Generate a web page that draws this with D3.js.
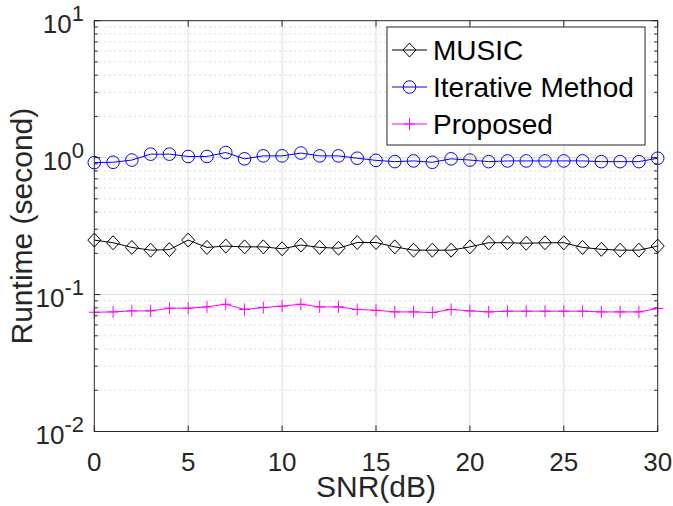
<!DOCTYPE html>
<html><head><meta charset="utf-8">
<script src="https://cdn.jsdelivr.net/npm/d3@7"></script>
<style>body{margin:0;background:#fff}svg{display:block}</style>
</head><body><svg id="c" width="673" height="506"></svg>
<script>
const snr = d3.range(0, 31);
const music = [0.25,0.239,0.221,0.211,0.213,0.25,0.221,0.226,0.223,0.223,0.216,0.23,0.221,0.218,0.24,0.24,0.223,0.211,0.211,0.211,0.223,0.239,0.239,0.237,0.239,0.239,0.221,0.214,0.211,0.211,0.226];
const iterative = [0.92,0.925,0.96,1.06,1.06,1.02,1.02,1.09,0.98,1.03,1.03,1.08,1.03,1.03,0.99,0.955,0.935,0.946,0.925,0.98,0.96,0.935,0.946,0.946,0.946,0.946,0.946,0.935,0.935,0.935,0.99];
const proposed = [0.0743,0.0747,0.076,0.076,0.0795,0.0795,0.0813,0.085,0.0778,0.0804,0.0823,0.085,0.0813,0.0813,0.0778,0.0768,0.0747,0.0747,0.074,0.0778,0.076,0.0747,0.0756,0.0756,0.0756,0.0756,0.0756,0.0747,0.0747,0.0747,0.0791];
const seriesNames = ["MUSIC","Iterative Method","Proposed"];
const xTicks = [0,5,10,15,20,25,30];
const yTickExp = [1,0,-1,-2];

const svg = d3.select("#c");
const L=94.3,R=657.7,T=20.7,B=431.5;
const x = d3.scaleLinear().domain([0,30]).range([L,R]);
const y = d3.scaleLog().domain([0.01,10]).range([B,T]);
const font = "'Liberation Sans', Arial, Helvetica, sans-serif";
const axc = "#262626";

// grid
const g = svg.append("g");
const minor = [];
[0.01,0.1,1].forEach(d=>{for(let k=2;k<=9;k++) minor.push(d*k);});
g.selectAll(".mn").data(minor).enter().append("line")
 .attr("x1",L).attr("x2",R).attr("y1",d=>y(d)).attr("y2",d=>y(d))
 .attr("stroke","#d0d0d0").attr("stroke-width",1).attr("stroke-dasharray","1.5,3.5");
g.selectAll(".mjy").data([0.1,1]).enter().append("line")
 .attr("x1",L).attr("x2",R).attr("y1",d=>y(d)).attr("y2",d=>y(d))
 .attr("stroke","#dcdcdc").attr("stroke-width",1);
g.selectAll(".mjx").data(xTicks.slice(1,-1)).enter().append("line")
 .attr("x1",d=>x(d)).attr("x2",d=>x(d)).attr("y1",T).attr("y2",B)
 .attr("stroke","#dcdcdc").attr("stroke-width",1);

// ticks (inward)
const tk = svg.append("g").attr("stroke",axc).attr("stroke-width",1);
xTicks.forEach(d=>{
  tk.append("line").attr("x1",x(d)).attr("x2",x(d)).attr("y1",B).attr("y2",B-6);
  tk.append("line").attr("x1",x(d)).attr("x2",x(d)).attr("y1",T).attr("y2",T+6);
});
minor.forEach(d=>{
  tk.append("line").attr("x1",L).attr("x2",L+3.5).attr("y1",y(d)).attr("y2",y(d));
  tk.append("line").attr("x1",R).attr("x2",R-3.5).attr("y1",y(d)).attr("y2",y(d));
});
yTickExp.forEach(e=>{
  const v=Math.pow(10,e);
  tk.append("line").attr("x1",L).attr("x2",L+6).attr("y1",y(v)).attr("y2",y(v));
  tk.append("line").attr("x1",R).attr("x2",R-6).attr("y1",y(v)).attr("y2",y(v));
});

// series
const series = [
  {name:seriesNames[0], vals:music, color:"#000000", marker:"diamond"},
  {name:seriesNames[1], vals:iterative, color:"#0000ff", marker:"circle"},
  {name:seriesNames[2], vals:proposed, color:"#ff00ff", marker:"plus"}
];
function drawMarker(sel, type, cx, cy, color){
  if(type==="circle") sel.append("circle").attr("cx",cx).attr("cy",cy).attr("r",6.3).attr("fill","none").attr("stroke",color).attr("stroke-width",1);
  else if(type==="diamond") sel.append("path").attr("d",`M${cx},${cy-7}L${cx+6.5},${cy}L${cx},${cy+7}L${cx-6.5},${cy}Z`).attr("fill","none").attr("stroke",color).attr("stroke-width",1);
  else sel.append("path").attr("d",`M${cx-5.5},${cy}H${cx+5.5}M${cx},${cy-6}V${cy+6}`).attr("fill","none").attr("stroke",color).attr("stroke-width",1);
}
const line = d3.line().x((d,i)=>x(snr[i])).y(d=>y(d));
series.forEach(s=>{
  svg.append("path").attr("d",line(s.vals)).attr("fill","none").attr("stroke",s.color).attr("stroke-width",1);
  const mg = svg.append("g");
  s.vals.forEach((v,i)=>drawMarker(mg,s.marker,x(snr[i]),y(v),s.color));
});

// box
svg.append("rect").attr("x",L).attr("y",T).attr("width",R-L).attr("height",B-T)
 .attr("fill","none").attr("stroke",axc).attr("stroke-width",1);

// x tick labels
svg.selectAll(".xl").data(xTicks).enter().append("text")
 .attr("x",d=>x(d)).attr("y",470.5).attr("text-anchor","middle")
 .attr("font-family",font).attr("font-size",26).attr("fill",axc).text(d=>d);
// y tick labels
yTickExp.forEach(e=>{
  const t = svg.append("text").attr("x",84).attr("y",y(Math.pow(10,e))+12).attr("text-anchor","end")
   .attr("font-family",font).attr("font-size",26).attr("fill",axc);
  t.append("tspan").text("10");
  t.append("tspan").attr("dy",-12).attr("font-size",22).text(e<0?"-"+(-e):String(e));
});
// axis titles
svg.append("text").attr("x",(L+R)/2).attr("y",497).attr("text-anchor","middle")
 .attr("font-family",font).attr("font-size",30).attr("fill",axc).text("SNR(dB)");
svg.append("text").attr("transform","translate(32,"+((T+B)/2)+") rotate(-90)").attr("text-anchor","middle")
 .attr("font-family",font).attr("font-size",30).attr("fill",axc).text("Runtime (second)");

// legend
const lg = svg.append("g");
lg.append("rect").attr("x",387).attr("y",27).attr("width",258).attr("height",118)
 .attr("fill","#fff").attr("stroke",axc).attr("stroke-width",1);
const ly=[50,87,124];
series.forEach((s,i)=>{
  lg.append("line").attr("x1",392).attr("x2",427).attr("y1",ly[i]).attr("y2",ly[i]).attr("stroke",s.color).attr("stroke-width",1);
  drawMarker(lg,s.marker,409.5,ly[i],s.color);
  lg.append("text").attr("x",433).attr("y",ly[i]+10).attr("font-family",font).attr("font-size",28).attr("fill","#000").text(s.name);
});
</script></body></html>
